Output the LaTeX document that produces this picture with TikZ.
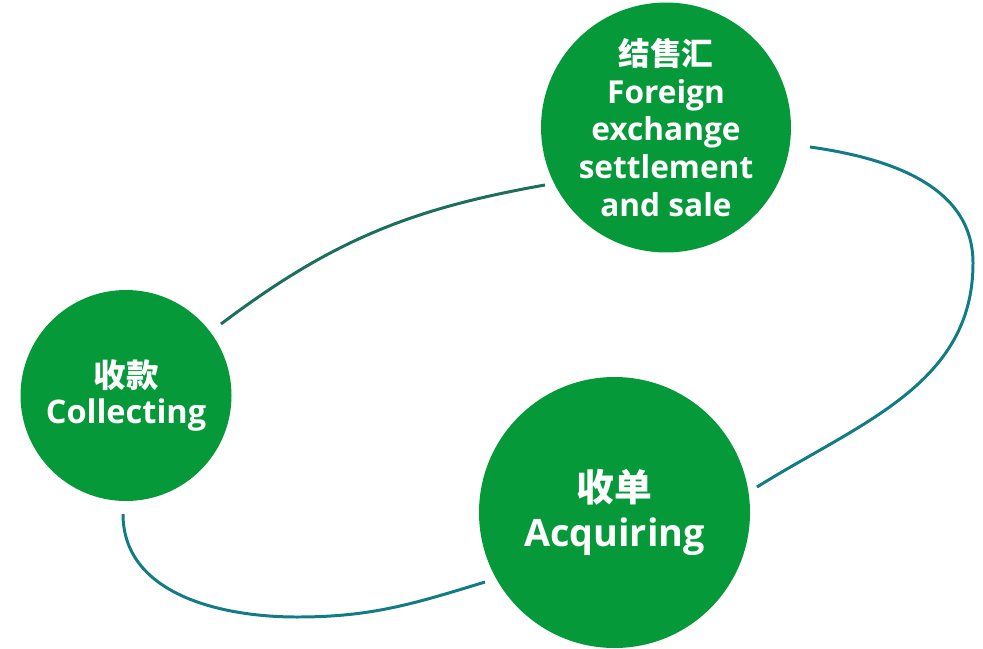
\documentclass[tikz,border=0pt]{standalone}
\usepackage{fontspec}
\setmainfont{Open Sans}
\newfontfamily\cjk{Noto Sans CJK SC}
\usepackage{xcolor}
\usepackage{tikz}
\usetikzlibrary{positioning}
\definecolor{cGreen}{HTML}{05993A}
\definecolor{cTeal}{HTML}{127C86}
\definecolor{cPine}{HTML}{1C6F5C}
\tikzset{
  phase/.style={circle, fill=cGreen, text=white, inner sep=0pt, align=center,
    font=\bfseries},
  loopline/.style={line width=1.7pt, cTeal},
}

\begin{document}
\begin{tikzpicture}
        \useasboundingbox (0,0) rectangle (19.66,-12.96);
        % the three stages
        \node[phase, minimum size=4.84cm, font=\bfseries\fontsize{18}{21.5}\selectfont] (sale) at (13.32,-2.55)
          {{\cjk 结售汇}\\Foreign\\exchange\\settlement\\and sale};
        \node[phase, minimum size=4.22cm, font=\bfseries\fontsize{18.5}{21}\selectfont] (collect) at (2.52,-7.91)
          {{\cjk 收款}\\Collecting};
        \node[phase, minimum size=5.42cm, font=\bfseries\fontsize{21.5}{25.5}\selectfont] (acquire) at (12.29,-10.25)
          {{\cjk 收单}\\Acquiring};
        % loop ends, just off the circles
        \coordinate (c1) at (4.42,-6.48);
        \coordinate (s1) at (10.90,-3.70);
        \coordinate (s2) at (16.20,-2.94);
        \coordinate (r2) at (19.46,-5.26);
        \coordinate (a2) at (15.14,-9.74);
        \coordinate (a3) at (9.70,-11.64);
        \coordinate (b3) at (5.94,-12.34);
        \coordinate (c3) at (2.46,-10.28);
        \draw[loopline, cPine] (c1) to[out=37, in=190] (s1);
        \draw[loopline] (s2) to[out=-8, in=90] (r2) to[out=-90, in=32] (a2);
        \draw[loopline] (c3) to[out=-90, in=180] (b3) to[out=0, in=197] (a3);
      \end{tikzpicture}
\end{document}
